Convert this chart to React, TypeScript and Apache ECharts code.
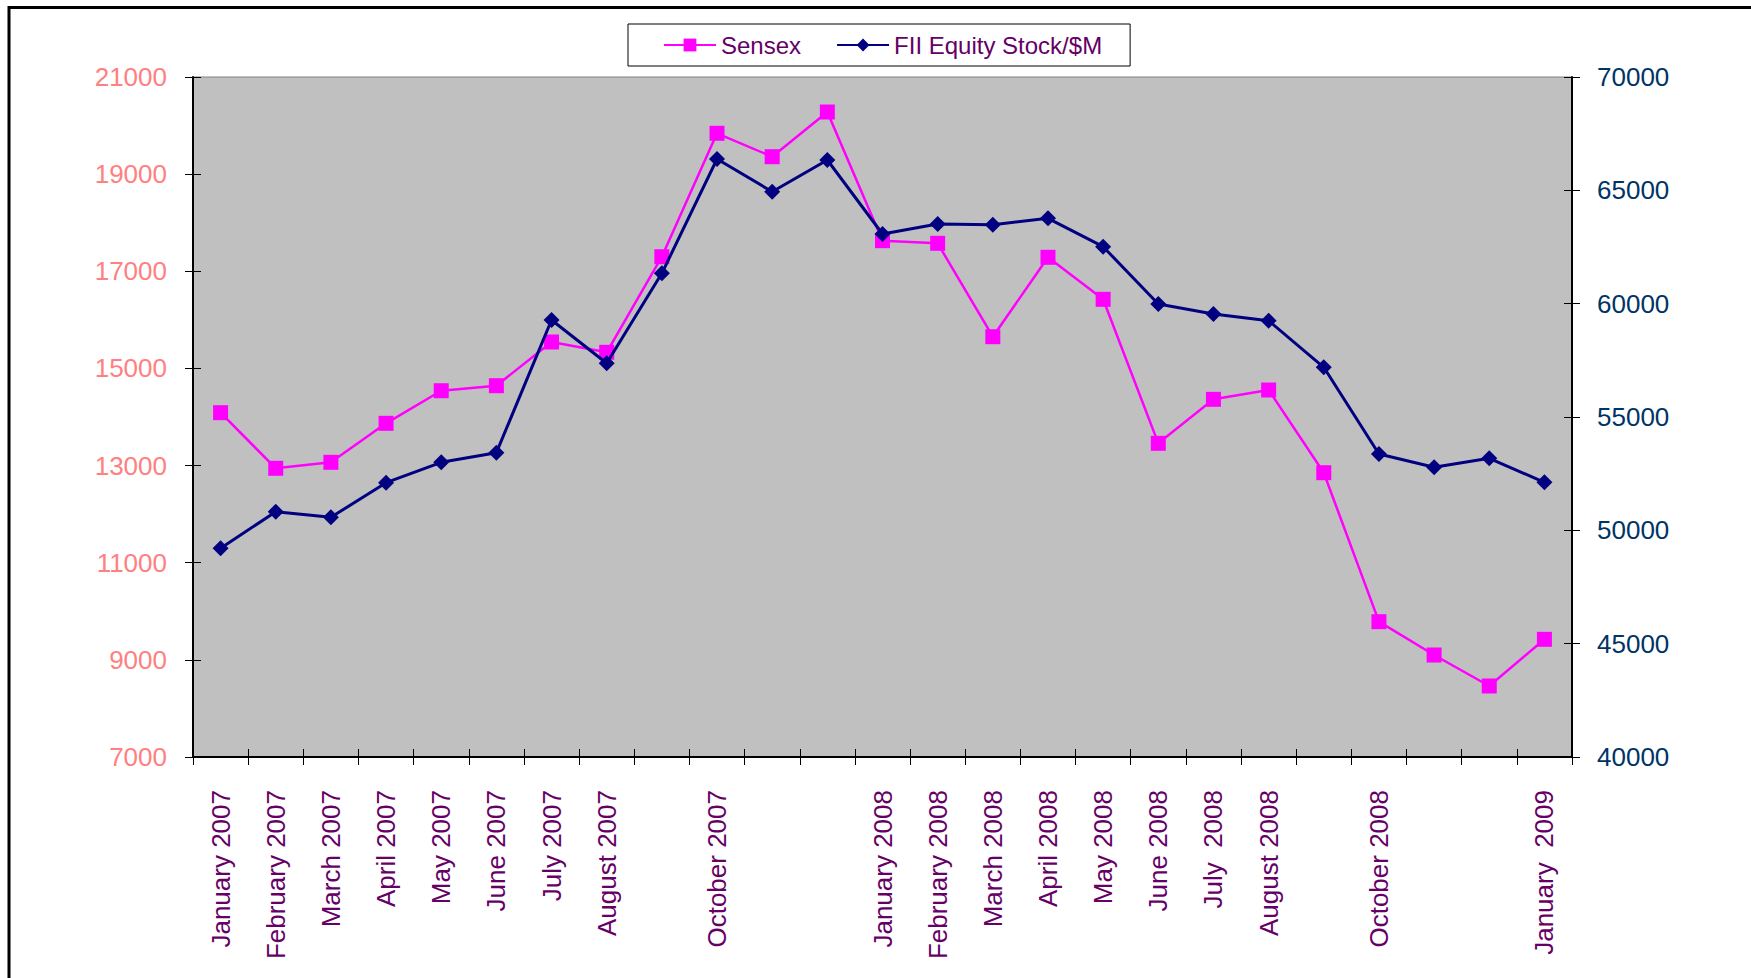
import React, { useEffect, useRef } from "react";
import * as echarts from "echarts";

const months = [
  "January 2007", "February 2007", "March 2007", "April 2007", "May 2007", "June 2007",
  "July 2007", "August 2007", "September 2007", "October 2007", "November 2007", "December 2007",
  "January 2008", "February 2008", "March 2008", "April 2008", "May 2008", "June 2008",
  "July 2008", "August 2008", "September 2008", "October 2008", "November 2008", "December 2008",
  "January 2009",
];

const tickLabels = [
  "January 2007", "February 2007", "March 2007", "April 2007", "May 2007", "June 2007",
  "July 2007", "August 2007", "", "October 2007", "", "",
  "January 2008", "February 2008", "March 2008", "April 2008", "May 2008", "June 2008",
  "July  2008", "August 2008", "", "October 2008", "", "",
  "January  2009",
];

const sensex = [
  14089, 12944, 13067, 13870, 14541, 14644, 15544, 15332, 17300, 19841, 19359, 20279,
  17630, 17576, 15653, 17288, 16423, 13458, 14364, 14556, 12853, 9786, 9100, 8462, 9423,
];

const fiiEquity = [
  49207, 50822, 50575, 52102, 53001, 53425, 59280, 57369, 61340, 66383, 64940, 66338,
  63074, 63515, 63484, 63766, 62513, 59985, 59544, 59249, 57192, 53368, 52781, 53178, 52119,
];

const leftTicks = { min: 7000, max: 21000, interval: 2000 };
const rightTicks = { min: 40000, max: 70000, interval: 5000 };

const FONT = "'Liberation Sans', Arial, Helvetica, sans-serif";

export default function App() {
  const ref = useRef<HTMLDivElement>(null);

  useEffect(() => {
    if (!ref.current) return;
    const chart = echarts.init(ref.current, undefined, { renderer: "svg" });
    const tickStyle = { color: "#000", width: 1 };
    const plain = (v: number) => String(v);
    chart.setOption({
      animation: false,
      backgroundColor: "#ffffff",
      textStyle: { fontFamily: FONT },
      graphic: [
        {
          type: "rect",
          shape: { x: 9, y: 7.5, width: 2000, height: 2000 },
          style: { fill: "none", stroke: "#000", lineWidth: 3 },
          silent: true,
          z: 100,
        },
      ],
      legend: {
        left: 628,
        top: 24,
        padding: [9, 28, 9, 35],
        itemGap: 35,
        itemWidth: 52,
        itemHeight: 16,
        backgroundColor: "#ffffff",
        borderColor: "#000000",
        borderWidth: 1,
        borderRadius: 0,
        textStyle: { fontSize: 24, color: "#660066", fontFamily: FONT, lineHeight: 24 },
        data: ["Sensex", "FII Equity Stock/$M"],
      },
      grid: {
        show: true,
        left: 193,
        right: 179,
        top: 77,
        bottom: 221,
        backgroundColor: "#C0C0C0",
        borderColor: "#808080",
        borderWidth: 1,
      },
      xAxis: [
        {
          type: "category",
          data: months,
          boundaryGap: true,
          axisLine: { show: true, lineStyle: { color: "#000", width: 2 } },
          axisTick: { show: true, interval: 0, length: 8, lineStyle: tickStyle },
          axisLabel: {
            interval: 0,
            rotate: 90,
            margin: 33,
            fontSize: 26,
            color: "#660066",
            fontFamily: FONT,
            formatter: (_v: string, i: number) => tickLabels[i],
          },
          splitLine: { show: false },
        },
        {
          type: "category",
          data: months,
          position: "bottom",
          boundaryGap: true,
          axisLine: { show: false },
          axisTick: { show: true, inside: true, interval: 0, length: 8, lineStyle: tickStyle },
          axisLabel: { show: false },
          splitLine: { show: false },
        },
      ],
      yAxis: [
        {
          type: "value",
          position: "left",
          ...leftTicks,
          axisLine: { show: true, lineStyle: { color: "#000", width: 2 } },
          axisTick: { show: true, length: 8, lineStyle: tickStyle },
          axisLabel: { margin: 26, fontSize: 26, color: "#FF8080", fontFamily: FONT, formatter: plain },
          splitLine: { show: false },
        },
        {
          type: "value",
          position: "right",
          ...rightTicks,
          axisLine: { show: true, lineStyle: { color: "#000", width: 2 } },
          axisTick: { show: true, length: 8, lineStyle: tickStyle },
          axisLabel: { margin: 25, fontSize: 26, color: "#003366", fontFamily: FONT, formatter: plain },
          splitLine: { show: false },
        },
        {
          type: "value",
          position: "left",
          ...leftTicks,
          axisLine: { show: false },
          axisTick: { show: true, inside: true, length: 8, lineStyle: tickStyle },
          axisLabel: { show: false },
          splitLine: { show: false },
        },
        {
          type: "value",
          position: "right",
          ...rightTicks,
          axisLine: { show: false },
          axisTick: { show: true, inside: true, length: 8, lineStyle: tickStyle },
          axisLabel: { show: false },
          splitLine: { show: false },
        },
      ],
      series: [
        {
          name: "Sensex",
          type: "line",
          xAxisIndex: 0,
          yAxisIndex: 0,
          data: sensex,
          symbol: "rect",
          symbolSize: 15,
          showAllSymbol: true,
          color: "#FF00FF",
          itemStyle: { color: "#FF00FF" },
          lineStyle: { color: "#FF00FF", width: 2.5 },
          z: 3,
        },
        {
          name: "FII Equity Stock/$M",
          type: "line",
          xAxisIndex: 0,
          yAxisIndex: 1,
          data: fiiEquity,
          symbol: "diamond",
          symbolSize: 16,
          showAllSymbol: true,
          color: "#000080",
          itemStyle: { color: "#000080" },
          lineStyle: { color: "#000080", width: 3 },
          z: 4,
        },
      ],
    });
    return () => chart.dispose();
  }, []);

  return (
    <div
      ref={ref}
      style={{ position: "absolute", left: 0, top: 0, width: 1751, height: 978, background: "#fff" }}
    />
  );
}
